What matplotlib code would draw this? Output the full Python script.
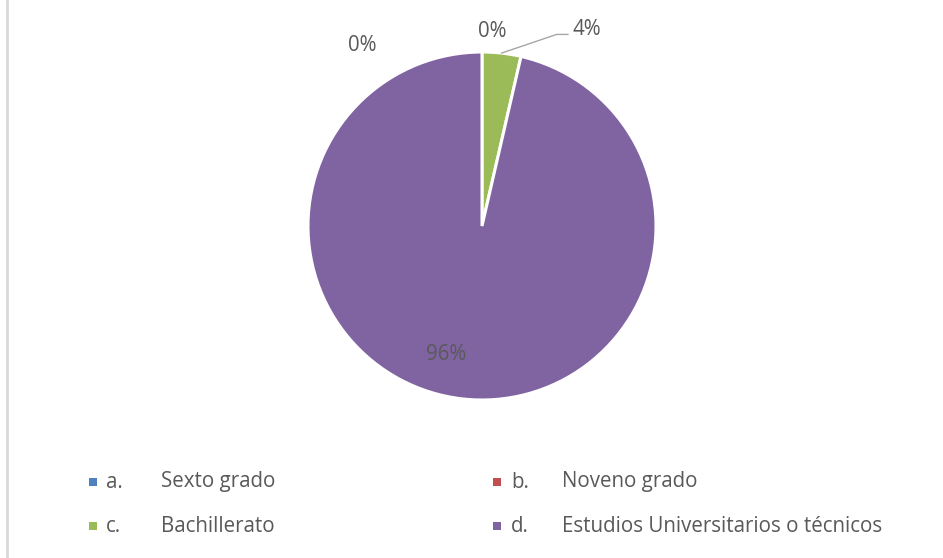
import matplotlib
matplotlib.use("Agg")
import matplotlib.pyplot as plt
from matplotlib.patches import Rectangle
from matplotlib.lines import Line2D

letters = ["a.", "b.", "c.", "d."]
categories = ["Sexto grado", "Noveno grado", "Bachillerato", "Estudios Universitarios o técnicos"]
values = [0, 0, 3.6, 96.4]
pct_labels = ["0%", "0%", "4%", "96%"]
colors = ["#4F81BD", "#C0504D", "#9BBB59", "#8064A2"]

W, H = 943, 558
plt.rcParams['font.family'] = ['Open Sans', 'DejaVu Sans']
fig = plt.figure(figsize=(W / 100, H / 100), dpi=100)
fig.patch.set_facecolor("white")

# left frame line
fig.add_artist(Line2D([7.5 / W, 7.5 / W], [0, 1], color="#D9D9D9", lw=2, transform=fig.transFigure))

cx, cy, r = 482, 226, 174
ax = fig.add_axes([(cx - r) / W, (H - cy - r) / H, 2 * r / W, 2 * r / H])

ax.pie(values, colors=colors, startangle=90, counterclock=False, radius=1,
       wedgeprops=dict(edgecolor="white", linewidth=2.2))
ax.set_xlim(-1, 1)
ax.set_ylim(-1, 1)
ax.set_aspect("equal")
ax.axis("off")

txt_color = "#595959"
fs = 14.8
# label positions (data coords, relative to pie radius)
label_pos = [(-0.69, 1.04), (0.057, 1.115), (0.60, 1.132), (-0.207, -0.736)]
for (x, y), t in zip(label_pos, pct_labels):
    ax.text(x, y, t, ha="center", va="center", fontsize=fs, color=txt_color, clip_on=False)

# leader line for 4%
ax.add_line(Line2D([0.113, 0.429, 0.494], [0.994, 1.101, 1.101], color="#A6A6A6", lw=1, clip_on=False))

# legend
rows_y = [482, 526]
cols = [(89, 106, 161), (493, 511, 562)]
for i, (let, name, col) in enumerate(zip(letters, categories, colors)):
    row, c = divmod(i, 2)
    mx, lx, nx = cols[c]
    y = rows_y[row]
    fig.add_artist(Rectangle((mx / W, (H - y - 4) / H), 8 / W, 8 / H, transform=fig.transFigure,
                             facecolor=col, edgecolor="none"))
    fig.text(lx / W, (H - y) / H, let, ha="left", va="center", fontsize=fs, color=txt_color)
    fig.text(nx / W, (H - y) / H, name, ha="left", va="center", fontsize=fs, color=txt_color)

fig.savefig("out.png", dpi=100, facecolor="white")
